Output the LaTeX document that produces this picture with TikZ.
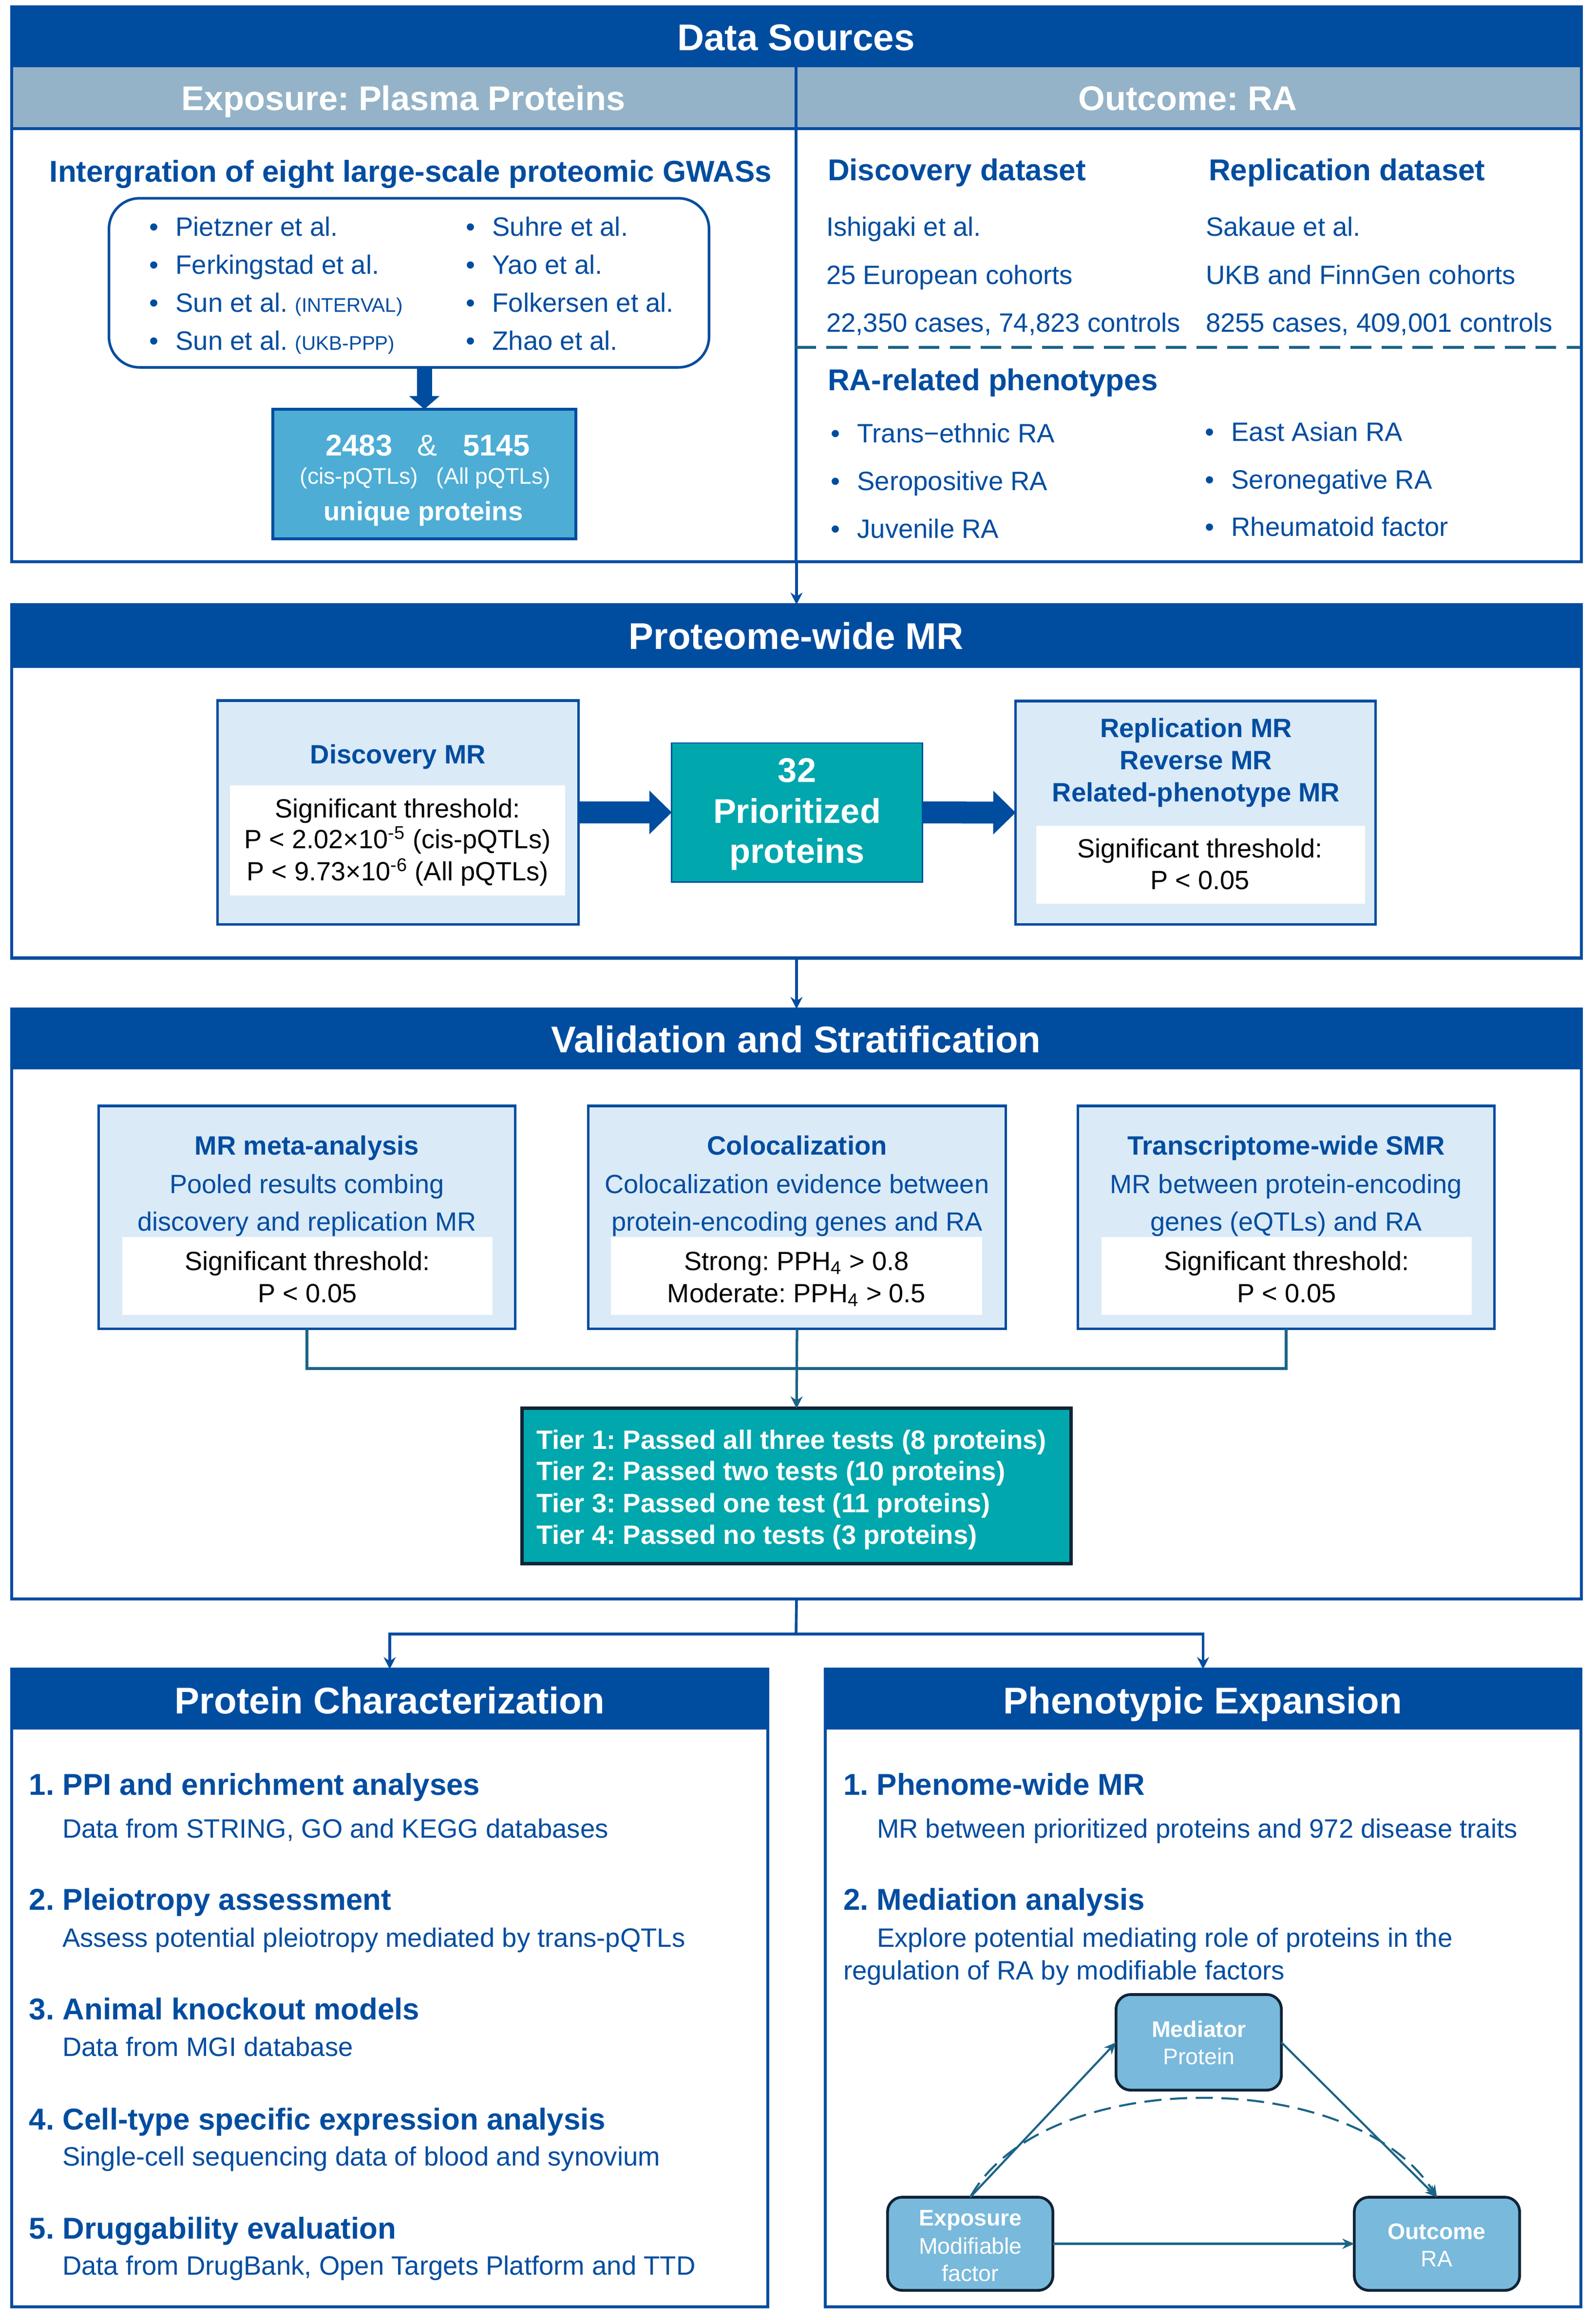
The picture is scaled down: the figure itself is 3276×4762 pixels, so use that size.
\documentclass[tikz,border=0pt]{standalone}
\usepackage{fontspec}
\setmainfont{Liberation Sans}
\usepackage{xcolor}
\usepackage{tikz}
\usetikzlibrary{arrows.meta, positioning, calc}
\frenchspacing

\definecolor{navy}{RGB}{0,77,160}
\definecolor{greyblue}{RGB}{148,179,200}
\definecolor{pale}{RGB}{218,234,247}
\definecolor{tealbox}{RGB}{0,167,173}
\definecolor{numblue}{RGB}{77,173,213}
\definecolor{linkteal}{RGB}{27,100,135}
\definecolor{medfill}{RGB}{121,185,219}
\definecolor{medline}{RGB}{16,35,54}

\newcommand{\itemdot}{\makebox[15.5pt][l]{\textbullet}}
\newcommand{\smallfont}{\fontsize{11.5}{13}\selectfont}

\begin{document}
\begin{tikzpicture}[x=0.01cm, y=-0.01cm, >={Stealth[length=7pt, width=7pt]}, every node/.style={inner sep=0pt, outer sep=0pt}]
    \tikzset{panel/.style={fill=white, anchor=north west}, bar/.style={fill=navy, anchor=north west}, subbar/.style={fill=greyblue, anchor=north west},
        frame/.style={draw=navy, line width=1.8pt}, flow/.style={draw=navy, line width=1.6pt},
        link/.style={draw=linkteal, line width=1.5pt}, dashline/.style={draw=linkteal, line width=1.5pt, dash pattern=on 12pt off 6pt},
        mrbox/.style={draw=navy, line width=1.5pt, fill=pale}, wbox/.style={fill=white},
        block/.style={draw=navy, line width=0.45cm, -{Triangle[length=0.46cm, width=0.87cm]}},
        ttl/.style={anchor=base, text=white, font=\fontsize{21.7}{26}\selectfont\bfseries},
        sub/.style={anchor=base, text=white, font=\fontsize{20}{24}\selectfont\bfseries},
        hd/.style={anchor=base west, text=navy, font=\fontsize{17.6}{21}\selectfont\bfseries},
        txt/.style={anchor=base west, text=navy, font=\fontsize{15.5}{18}\selectfont},
        ctxt/.style={anchor=base, text=navy, font=\fontsize{15.4}{18}\selectfont},
        cbold/.style={anchor=base, text=navy, font=\fontsize{15.5}{18}\selectfont\bfseries},
        blk/.style={anchor=base, text=black, font=\fontsize{15.4}{18}\selectfont},
        wbig/.style={anchor=base, text=white, font=\fontsize{20}{24}\selectfont\bfseries},
        wbold/.style={anchor=base, text=white, font=\fontsize{15.5}{18}\selectfont\bfseries},
        medbox/.style={draw=medline, line width=1.6pt, fill=medfill, rounded corners=0.3cm},
        medarrow/.style={draw=linkteal, line width=1.2pt, -{Stealth[length=7pt, width=6pt]}}}
    \useasboundingbox (0,0) rectangle (3276,4762);

    % data sources
    \node[panel, minimum width=32.2cm, minimum height=11.38cm] (src) at (24,14) {};
    \node[bar, minimum width=32.2cm, minimum height=1.24cm] (srcbar) at (src.north west) {};
    \node[subbar, minimum width=16.09cm, minimum height=1.26cm] (expobar) at (srcbar.south west) {};
    \node[subbar, minimum width=16.11cm, minimum height=1.26cm] (outcbar) at (expobar.north east) {};
    \draw[frame] (src.north west) rectangle (src.south east);
    \draw[frame] (expobar.south west) -- (outcbar.south east);
    \draw[frame] (expobar.north east) -- (expobar.east |- src.south);
    \node[ttl] (srcttl) at (1634,103) {Data Sources};
    \node[sub] (expottl) at (828,226) {Exposure: Plasma Proteins};
    \node[sub] (outcttl) at (2438,226) {Outcome: RA};

    % exposure side
    \node[hd, anchor=base] (gwas) at (843,373) {Intergration of eight large-scale proteomic GWASs};
    \node[draw=navy, line width=1.5pt, rounded corners=0.63cm, fill=white, minimum width=12.31cm, minimum height=3.47cm] (studies) at (839.5,580.5) {};
    \foreach \y/\lft/\rgt in {484/{Pietzner et al.}/{Suhre et al.}, 562/{Ferkingstad et al.}/{Yao et al.},
                              640/{Sun et al. {\smallfont(INTERVAL)}}/{Folkersen et al.}, 718/{Sun et al. {\smallfont(UKB-PPP)}}/{Zhao et al.}} {
        \node[txt] (lst\y) at (306,\y) {\itemdot\lft};
        \node[txt] (rst\y) at (956,\y) {\itemdot\rgt};
    }
    \node[draw=navy, line width=1.8pt, fill=numblue, minimum width=6.22cm, minimum height=2.66cm] (numbox) at (871,973) {};
    \draw[draw=navy, line width=0.31cm, -{Triangle[length=0.27cm, width=0.61cm]}] (studies.south -| numbox.north) -- (numbox.north);
    \node[anchor=base, text=white, font=\fontsize{17.5}{21}\selectfont\bfseries] (cisn) at (737,935) {2483};
    \node[anchor=base, text=white, font=\fontsize{17.5}{21}\selectfont] (amp) at (877,935) {\&};
    \node[anchor=base, text=white, font=\fontsize{17.5}{21}\selectfont\bfseries] (alln) at (1019,935) {5145};
    \node[anchor=base, text=white, font=\fontsize{13.2}{16}\selectfont] (cisl) at (737,993) {(cis-pQTLs)};
    \node[anchor=base, text=white, font=\fontsize{13.2}{16}\selectfont] (alll) at (1013,993) {(All pQTLs)};
    \node[wbold] (uniq) at (869,1068) {unique proteins};

    % outcome side
    \node[hd] (discset) at (1699,370) {Discovery dataset};
    \node[hd] (replset) at (2481,370) {Replication dataset};
    \node[txt] (disc1) at (1696,484) {Ishigaki et al.};
    \node[txt] (disc2) at (1696,583) {25 European cohorts};
    \node[txt] (disc3) at (1696,681) {22,350 cases, 74,823 controls};
    \node[txt] (repl1) at (2475,484) {Sakaue et al.};
    \node[txt] (repl2) at (2475,583) {UKB and FinnGen cohorts};
    \node[txt] (repl3) at (2475,681) {8255 cases, 409,001 controls};
    \draw[dashline] (1633,713) -- (3244,713);
    \node[hd] (phen) at (1699,801) {RA-related phenotypes};
    \node[txt] (phen1) at (1705,908) {\itemdot Trans−ethnic RA};
    \node[txt] (phen2) at (1705,1006) {\itemdot Seropositive RA};
    \node[txt] (phen3) at (1705,1104) {\itemdot Juvenile RA};
    \node[txt] (phen4) at (2473,905) {\itemdot East Asian RA};
    \node[txt] (phen5) at (2473,1003) {\itemdot Seronegative RA};
    \node[txt] (phen6) at (2473,1100) {\itemdot Rheumatoid factor};

    % proteome-wide MR
    \node[panel, minimum width=32.2cm, minimum height=7.25cm] (prot) at (24,1241) {};
    \node[bar, minimum width=32.2cm, minimum height=1.30cm] (protbar) at (prot.north west) {};
    \draw[frame] (prot.north west) rectangle (prot.south east);
    \node[ttl] (protttl) at (1634,1332) {Proteome-wide MR};
    \draw[flow, ->] (src.south) -- (prot.north);

    \node[mrbox, minimum width=7.40cm, minimum height=4.59cm] (disc) at (817,1667.5) {};
    \node[wbox, minimum width=6.88cm, minimum height=2.26cm] (discthr) at (816,1725) {};
    \node[cbold] (discttl) at (817,1567) {Discovery MR};
    \node[blk] (discl1) at (816,1678) {Significant threshold:};
    \node[blk] (discl2) at (816,1741) {P < 2.02×10\textsuperscript{-5} (cis-pQTLs)};
    \node[blk] (discl3) at (816,1807) {P < 9.73×10\textsuperscript{-6} (All pQTLs)};

    \node[draw=navy, line width=0.8pt, fill=tealbox, minimum width=5.14cm, minimum height=2.85cm] (prio) at (1636,1667.5) {};
    \node[wbig] (prio1) at (1636,1605) {32};
    \node[wbig] (prio2) at (1636,1689) {Prioritized};
    \node[wbig] (prio3) at (1636,1771) {proteins};

    \node[mrbox, minimum width=7.38cm, minimum height=4.58cm] (repl) at (2454,1668) {};
    \node[wbox, minimum width=6.75cm, minimum height=1.60cm] (replthr) at (2464.5,1775) {};
    \node[cbold] (replttl1) at (2455,1513) {Replication MR};
    \node[cbold] (replttl2) at (2455,1579) {Reverse MR};
    \node[cbold] (replttl3) at (2455,1645) {Related-phenotype MR};
    \node[blk] (repll1) at (2463,1760) {Significant threshold:};
    \node[blk] (repll2) at (2463,1825) {P < 0.05};

    \draw[block] (disc.east) -- (prio.west);
    \draw[block] (prio.east) -- (repl.west);

    % validation and stratification
    \node[panel, minimum width=32.2cm, minimum height=12.10cm] (val) at (24,2071) {};
    \node[bar, minimum width=32.2cm, minimum height=1.24cm] (valbar) at (val.north west) {};
    \draw[frame] (val.north west) rectangle (val.south east);
    \node[ttl] (valttl) at (1634,2160) {Validation and Stratification};
    \draw[flow, ->] (prot.south) -- (val.north);

    \node[mrbox, minimum width=8.54cm, minimum height=4.57cm] (meta) at (630,2498.5) {};
    \node[wbox, minimum width=7.60cm, minimum height=1.60cm] (metathr) at (631,2619) {};
    \node[cbold] (metal1) at (630,2370) {MR meta-analysis};
    \node[ctxt] (metal2) at (630,2449) {Pooled results combing};
    \node[ctxt] (metal3) at (630,2526) {discovery and replication MR};
    \node[blk] (metal4) at (631,2607) {Significant threshold:};
    \node[blk] (metal5) at (631,2673) {P < 0.05};

    \node[mrbox, minimum width=8.56cm, minimum height=4.57cm] (coloc) at (1636,2498.5) {};
    \node[wbox, minimum width=7.62cm, minimum height=1.60cm] (colocthr) at (1635,2619) {};
    \node[cbold] (colocl1) at (1636,2370) {Colocalization};
    \node[ctxt] (colocl2) at (1636,2449) {Colocalization evidence between};
    \node[ctxt] (colocl3) at (1636,2526) {protein-encoding genes and RA};
    \node[blk] (colocl4) at (1635,2607) {Strong: PPH\textsubscript{4} > 0.8};
    \node[blk] (colocl5) at (1635,2673) {Moderate: PPH\textsubscript{4} > 0.5};

    \node[mrbox, minimum width=8.54cm, minimum height=4.57cm] (smr) at (2640,2498.5) {};
    \node[wbox, minimum width=7.60cm, minimum height=1.60cm] (smrthr) at (2641,2619) {};
    \node[cbold] (smrl1) at (2640,2370) {Transcriptome-wide SMR};
    \node[ctxt] (smrl2) at (2640,2449) {MR between protein-encoding};
    \node[ctxt] (smrl3) at (2640,2526) {genes (eQTLs) and RA};
    \node[blk] (smrl4) at (2641,2607) {Significant threshold:};
    \node[blk] (smrl5) at (2641,2673) {P < 0.05};

    \node[draw=medline, line width=2pt, fill=tealbox, minimum width=11.26cm, minimum height=3.18cm] (tiers) at (1635,3050) {};
    \node[wbold, anchor=base west] (tier1) at (1101,2974) {Tier 1: Passed all three tests (8 proteins)};
    \node[wbold, anchor=base west] (tier2) at (1101,3038) {Tier 2: Passed two tests (10 proteins)};
    \node[wbold, anchor=base west] (tier3) at (1101,3104) {Tier 3: Passed one test (11 proteins)};
    \node[wbold, anchor=base west] (tier4) at (1101,3169) {Tier 4: Passed no tests (3 proteins)};

    \coordinate (join) at (1636,2809);
    \draw[link] (meta.south) |- (join);
    \draw[link] (smr.south) |- (join);
    \draw[link, ->] (coloc.south) -- (tiers.north);

    % protein characterization
    \node[panel, minimum width=15.51cm, minimum height=13.08cm] (pc) at (24,3426) {};
    \node[bar, minimum width=15.51cm, minimum height=1.24cm] (pcbar) at (pc.north west) {};
    \draw[frame] (pc.north west) rectangle (pc.south east);
    \node[ttl] (pcttl) at (800,3517) {Protein Characterization};
    \node[hd] (pch1) at (60,3684) {1. PPI and enrichment analyses};
    \node[txt] (pct1) at (128,3772) {Data from STRING, GO and KEGG databases};
    \node[hd] (pch2) at (60,3920) {2. Pleiotropy assessment};
    \node[txt] (pct2) at (128,3996) {Assess potential pleiotropy mediated by trans-pQTLs};
    \node[hd] (pch3) at (60,4145) {3. Animal knockout models};
    \node[txt] (pct3) at (128,4220) {Data from MGI database};
    \node[hd] (pch4) at (60,4371) {4. Cell-type specific expression analysis};
    \node[txt] (pct4) at (128,4445) {Single-cell sequencing data of blood and synovium};
    \node[hd] (pch5) at (60,4595) {5. Druggability evaluation};
    \node[txt] (pct5) at (128,4669) {Data from DrugBank, Open Targets Platform and TTD};

    % phenotypic expansion
    \node[panel, minimum width=15.50cm, minimum height=13.08cm] (pe) at (1694,3426) {};
    \node[bar, minimum width=15.50cm, minimum height=1.24cm] (pebar) at (pe.north west) {};
    \draw[frame] (pe.north west) rectangle (pe.south east);
    \node[ttl] (pettl) at (2469,3517) {Phenotypic Expansion};
    \node[hd] (peh1) at (1731,3684) {1. Phenome-wide MR};
    \node[txt] (pet1) at (1800,3772) {MR between prioritized proteins and 972 disease traits};
    \node[hd] (peh2) at (1731,3920) {2. Mediation analysis};
    \node[txt] (pet2) at (1800,3996) {Explore potential mediating role of proteins in the};
    \node[txt] (pet3) at (1731,4063) {regulation of RA by modifiable factors};

    \coordinate (fork) at (1634,3354);
    \draw[flow] (val.south) -- (fork);
    \draw[flow, ->] (fork) -| (pc.north);
    \draw[flow, ->] (fork) -| (pe.north);

    % mediation triangle
    \node[medbox, minimum width=3.39cm, minimum height=1.96cm] (medi) at (2460.5,4192) {};
    \node[medbox, minimum width=3.39cm, minimum height=1.91cm] (expo) at (1991.5,4605.5) {};
    \node[medbox, minimum width=3.39cm, minimum height=1.91cm] (outc) at (2949.5,4605.5) {};
    \node[anchor=base, text=white, font=\fontsize{13.2}{16}\selectfont\bfseries] (medil1) at (2461,4181) {Mediator};
    \node[anchor=base, text=white, font=\fontsize{13.2}{16}\selectfont] (medil2) at (2461,4237) {Protein};
    \node[anchor=base, text=white, font=\fontsize{13.2}{16}\selectfont\bfseries] (expol1) at (1992,4568) {Exposure};
    \node[anchor=base, text=white, font=\fontsize{13.2}{16}\selectfont] (expol2) at (1992,4626) {Modifiable};
    \node[anchor=base, text=white, font=\fontsize{13.2}{16}\selectfont] (expol3) at (1992,4682) {factor};
    \node[anchor=base, text=white, font=\fontsize{13.2}{16}\selectfont\bfseries] (outcl1) at (2949,4596) {Outcome};
    \node[anchor=base, text=white, font=\fontsize{13.2}{16}\selectfont] (outcl2) at (2949,4652) {RA};
    \draw[medarrow] (expo.north) -- (medi.west);
    \draw[medarrow] (medi.east) -- (outc.north);
    \draw[medarrow] (expo.east) -- (outc.west);
    \draw[medarrow, dash pattern=on 10pt off 5pt] (expo.north) .. controls +(150,-270) and +(-170,-270) .. (outc.north);
\end{tikzpicture}
\end{document}
